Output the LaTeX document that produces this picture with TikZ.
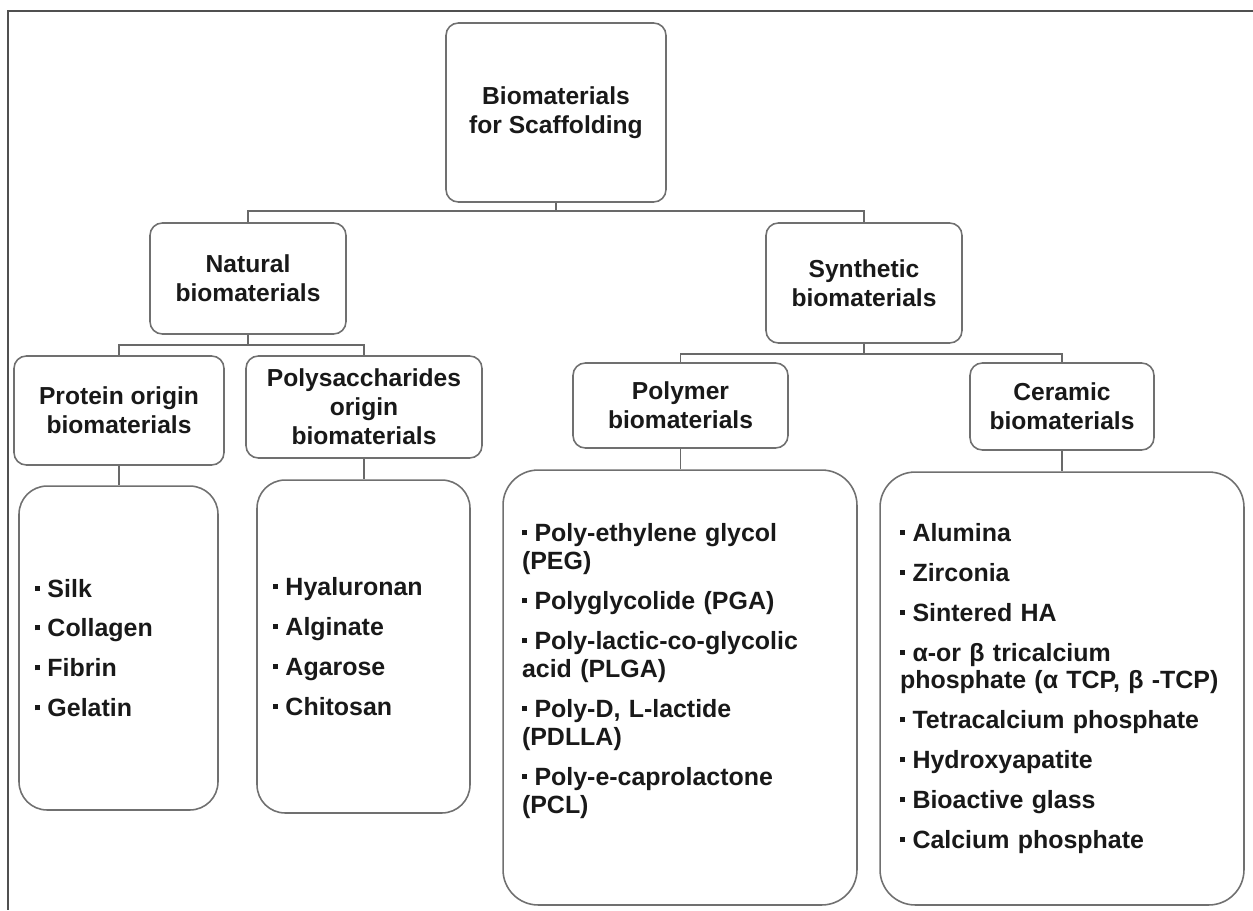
\documentclass[tikz,border=0pt]{standalone}
\usepackage{fontspec}
\setmainfont{Liberation Sans}
\usepackage{xcolor}
\usetikzlibrary{positioning,calc}
\definecolor{boxline}{RGB}{112,112,112}
\definecolor{wirecol}{RGB}{105,105,105}
\definecolor{framecol}{RGB}{80,80,80}
\newcommand{\itm}{\raisebox{0.26em}{\rule{0.2em}{0.2em}}\hspace{0.3em}}

\begin{document}
\begin{tikzpicture}[x=0.02cm,y=-0.02cm,
  head/.style={draw=boxline,line width=0.9pt,rounded corners=7pt,align=center,
    inner sep=0pt,text=black!90,font=\bfseries\fontsize{14}{16.5}\selectfont},
  listbox/.style={draw=boxline,line width=0.9pt,rounded corners=16pt,align=left,
    inner sep=0pt,text=black!90,font=\bfseries\fontsize{14.2}{15.9}\selectfont},
  wire/.style={draw=wirecol,line width=0.9pt}]
\useasboundingbox (0,0) rectangle (1253,910);
% outer frame (top and left only)
\draw[framecol,line width=0.9pt] (1253,11) -| (8,910);
% root
\node[head,minimum width=4.4cm,minimum height=3.58cm] (root) at (556,112.5)
  {Biomaterials\\for Scaffolding};
% second level
\node[head,minimum width=3.92cm,minimum height=2.22cm] (nat) at (248,278.5)
  {Natural\\biomaterials};
\node[head,minimum width=3.92cm,minimum height=2.4cm] (syn) at (864,283)
  {Synthetic\\biomaterials};
% third level
\node[head,minimum width=4.2cm,minimum height=2.18cm] (prot) at (119,410.5)
  {Protein origin\\biomaterials};
\node[head,minimum width=4.72cm,minimum height=2.04cm] (poly) at (364,407)
  {Polysaccharides\\origin\\biomaterials};
\node[head,minimum width=4.3cm,minimum height=1.7cm] (pmr) at (680.5,405.5)
  {Polymer\\biomaterials};
\node[head,minimum width=3.68cm,minimum height=1.74cm] (cer) at (1062,406.5)
  {Ceramic\\biomaterials};
% lists
\node[listbox,text width=3.34cm,minimum width=3.98cm,minimum height=6.48cm] (protlist) at (118.5,648)
  {\itm Silk\\[0.24cm]\itm Collagen\\[0.24cm]\itm Fibrin\\[0.24cm]\itm Gelatin};
\node[listbox,text width=3.62cm,minimum width=4.26cm,minimum height=6.66cm] (polylist) at (363.5,646.5)
  {\itm Hyaluronan\\[0.24cm]\itm Alginate\\[0.24cm]\itm Agarose\\[0.24cm]\itm Chitosan};
\node[listbox,rounded corners=20pt,text width=6.32cm,minimum width=7.08cm,minimum height=8.7cm] (pmrlist) at (680,687.5)
  {\itm Poly-ethylene glycol\\(PEG)\\[0.24cm]
   \itm Polyglycolide (PGA)\\[0.24cm]
   \itm Poly-lactic-co-glycolic\\acid (PLGA)\\[0.24cm]
   \itm Poly-D, L-lactide\\(PDLLA)\\[0.24cm]
   \itm Poly-e-caprolactone\\(PCL)\\[0.2cm]\mbox{}};
\node[listbox,rounded corners=20pt,text width=6.48cm,minimum width=7.28cm,minimum height=8.66cm] (cerlist) at (1062,688.5)
  {\itm Alumina\\[0.24cm]
   \itm Zirconia\\[0.24cm]
   \itm Sintered HA\\[0.24cm]
   \itm α-or β tricalcium\\phosphate (α TCP, β -TCP)\\[0.24cm]
   \itm Tetracalcium phosphate\\[0.24cm]
   \itm Hydroxyapatite\\[0.24cm]
   \itm Bioactive glass\\[0.24cm]
   \itm Calcium phosphate};
% connectors
\coordinate (j0) at (556,211);
\coordinate (j1) at (248,345);
\coordinate (j2) at (864,354);
\draw[wire] (root.south) -- (j0);
\draw[wire] (nat.north) |- (j0) -| (syn.north);
\draw[wire] (nat.south) -- (j1);
\draw[wire] (prot.north) |- (j1) -| (poly.north);
\draw[wire] (syn.south) -- (j2);
\draw[wire] (pmr.north) |- (j2) -| (cer.north);
\draw[wire] (prot.south) -- (prot.south |- protlist.north);
\draw[wire] (poly.south) -- (poly.south |- polylist.north);
\draw[wire] (pmr.south) -- (pmr.south |- pmrlist.north);
\draw[wire] (cer.south) -- (cer.south |- cerlist.north);
\end{tikzpicture}
\end{document}
